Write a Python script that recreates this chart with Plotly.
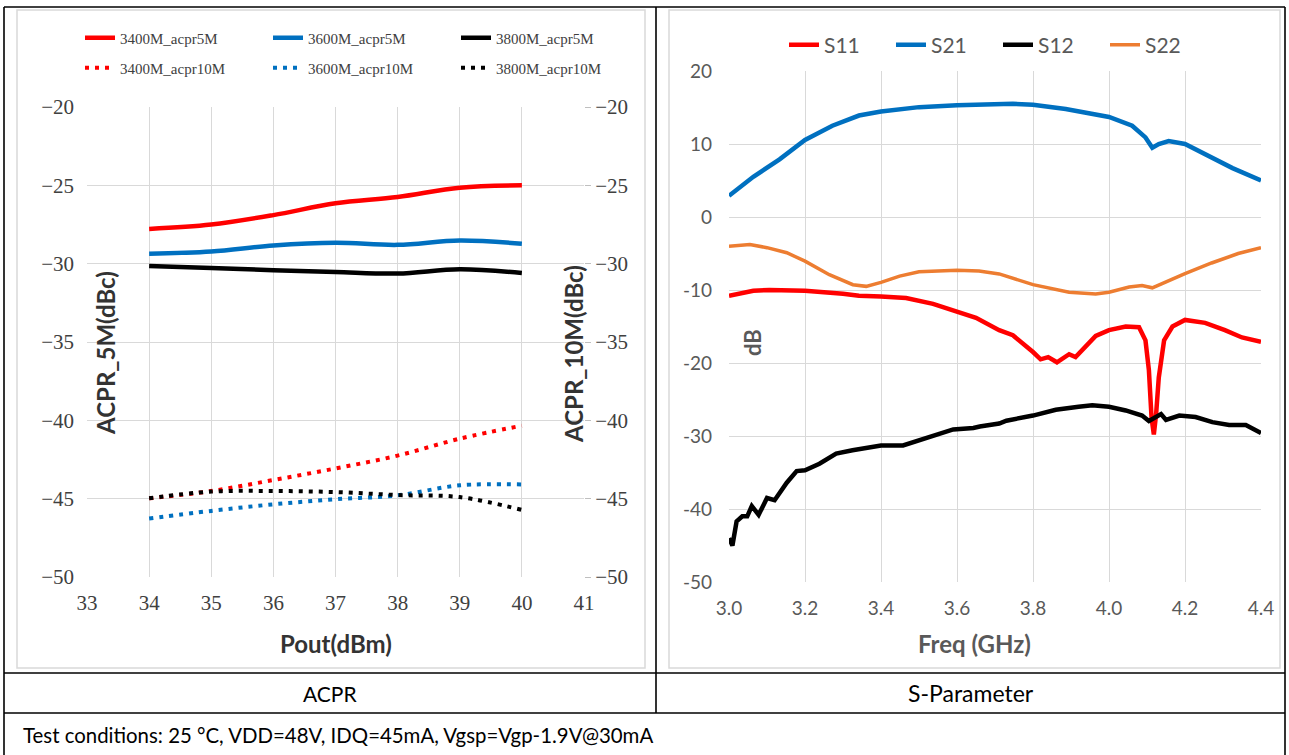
import plotly.graph_objects as go

W, H = 1289, 755

# ---------------- ACPR data ----------------
pout = [34, 35, 36, 37, 38, 39, 40]
acpr5_3400 = [-27.78, -27.5, -26.9, -26.15, -25.75, -25.15, -25.0]
acpr5_3600 = [-29.37, -29.22, -28.84, -28.67, -28.8, -28.52, -28.73]
acpr5_3800 = [-30.15, -30.27, -30.42, -30.53, -30.63, -30.36, -30.59]
acpr10_3400 = [-44.98, -44.51, -43.81, -43.07, -42.25, -41.17, -40.34]
acpr10_3600 = [-46.27, -45.78, -45.36, -45.04, -44.79, -44.15, -44.09]
acpr10_3800 = [-44.98, -44.55, -44.51, -44.58, -44.77, -44.9, -45.72]

# ---------------- S-parameter data ----------------
s21_f = [3.0, 3.064, 3.133, 3.2, 3.272, 3.342, 3.4, 3.5, 3.6, 3.66, 3.711, 3.747, 3.8,
         3.886, 4.0, 4.061, 4.096, 4.114, 4.131, 4.157, 4.2, 4.27, 4.325, 4.4]
s21_v = [2.9, 5.5, 7.9, 10.55, 12.5, 13.9, 14.45, 15.05, 15.3, 15.4, 15.55, 15.5, 15.37,
         14.8, 13.7, 12.5, 10.9, 9.5, 10.0, 10.4, 10.0, 8.2, 6.7, 5.0]

s22_f = [3.0, 3.055, 3.1, 3.152, 3.2, 3.264, 3.326, 3.361, 3.4, 3.449, 3.5, 3.6, 3.658,
         3.711, 3.8, 3.895, 3.965, 4.0, 4.053, 4.087, 4.114, 4.2, 4.27, 4.34, 4.4]
s22_v = [-4.0, -3.76, -4.2, -4.9, -6.05, -7.9, -9.27, -9.5, -8.95, -8.1, -7.5, -7.3, -7.4,
         -7.8, -9.27, -10.3, -10.55, -10.3, -9.6, -9.4, -9.7, -7.75, -6.3, -5.0, -4.2]

s11_f = [3.0, 3.064, 3.106, 3.2, 3.3, 3.342, 3.4, 3.466, 3.537, 3.6, 3.65, 3.711, 3.747,
         3.8, 3.82, 3.84, 3.863, 3.895, 3.912, 3.965, 4.0, 4.044, 4.079, 4.096, 4.105,
         4.112, 4.118, 4.124, 4.131, 4.145, 4.167, 4.2, 4.253, 4.305, 4.35, 4.4]
s11_v = [-10.8, -10.1, -10.0, -10.1, -10.5, -10.8, -10.9, -11.1, -11.9, -13.0, -13.8, -15.5,
         -16.2, -18.5, -19.5, -19.2, -19.9, -18.8, -19.2, -16.3, -15.5, -15.0, -15.1, -16.9,
         -21.0, -27.5, -29.8, -27.0, -22.0, -16.9, -15.0, -14.1, -14.5, -15.5, -16.5, -17.1]

s12_f = [3.0, 3.009, 3.02, 3.035, 3.048, 3.06, 3.078, 3.1, 3.12, 3.152, 3.178, 3.2, 3.238,
         3.282, 3.325, 3.4, 3.458, 3.5, 3.545, 3.59, 3.643, 3.66, 3.711, 3.73, 3.8, 3.86,
         3.92, 3.956, 4.0, 4.044, 4.087, 4.105, 4.137, 4.15, 4.185, 4.228, 4.272, 4.316,
         4.36, 4.4]
s12_v = [-44.0, -45.0, -41.7, -41.0, -41.0, -39.6, -40.8, -38.5, -38.8, -36.4, -34.8, -34.7,
         -33.8, -32.4, -31.95, -31.3, -31.3, -30.6, -29.8, -29.1, -28.9, -28.7, -28.3, -27.9,
         -27.2, -26.4, -26.0, -25.8, -26.0, -26.5, -27.2, -27.95, -27.0, -27.8, -27.2, -27.4,
         -28.1, -28.5, -28.5, -29.6]

acpr_yticks = [-50, -45, -40, -35, -30, -25, -20]
sp_yticks = [-50, -40, -30, -20, -10, 0, 10, 20]
sp_yticktext = ["-50", "-40", "-30", "-20", "-10", "0", "10", "20"]
sp_xticks = [3.0, 3.2, 3.4, 3.6, 3.8, 4.0, 4.2, 4.4]

RED, BLUE, BLACK, ORANGE = "#FF0000", "#0070C0", "#000000", "#ED7D31"
SERIF = "Liberation Serif"
SANS = "Lato"


def px(x):
    return x / W


def py(y):
    return 1 - y / H


fig = go.Figure()

dotdash = "4px,6px"
for name, vals, col in [("3400M_acpr5M", acpr5_3400, RED),
                        ("3600M_acpr5M", acpr5_3600, BLUE),
                        ("3800M_acpr5M", acpr5_3800, BLACK)]:
    fig.add_trace(go.Scatter(x=pout, y=vals, name=name, mode="lines",
                             line=dict(color=col, width=4.5, shape="spline"),
                             xaxis="x", yaxis="y", legend="legend"))
for name, vals, col in [("3400M_acpr10M", acpr10_3400, RED),
                        ("3600M_acpr10M", acpr10_3600, BLUE),
                        ("3800M_acpr10M", acpr10_3800, BLACK)]:
    fig.add_trace(go.Scatter(x=pout, y=vals, name=name, mode="lines",
                             line=dict(color=col, width=4, shape="spline", dash=dotdash),
                             xaxis="x", yaxis="y2", legend="legend2"))

for name, f, v, col, w in [("S11", s11_f, s11_v, RED, 4.5),
                           ("S21", s21_f, s21_v, BLUE, 4.5),
                           ("S12", s12_f, s12_v, BLACK, 4.5),
                           ("S22", s22_f, s22_v, ORANGE, 3.5)]:
    fig.add_trace(go.Scatter(x=f, y=v, name=name, mode="lines",
                             line=dict(color=col, width=w),
                             xaxis="x2", yaxis="y3", legend="legend3"))

GRID = "#d9d9d9"
acpr_tickfont = dict(family=SERIF, size=21, color="#404040")
sp_tickfont = dict(family=SANS, size=19, color="#595959")

fig.update_layout(
    width=W, height=H,
    margin=dict(l=0, r=0, t=0, b=0, autoexpand=False),
    paper_bgcolor="white", plot_bgcolor="white",
    hovermode=False,
    xaxis=dict(domain=[px(87), px(584)], range=[33, 41], dtick=1, tick0=33,
               showgrid=True, gridcolor=GRID, gridwidth=1, zeroline=False,
               showline=False, ticks="", tickfont=acpr_tickfont, anchor="y",
               ticklabelstandoff=11),
    yaxis=dict(domain=[py(577), py(107)], range=[-50, -20], tickvals=acpr_yticks,
               showgrid=True, gridcolor=GRID, zeroline=False, showline=False,
               ticks="", tickfont=acpr_tickfont, anchor="x", ticklabelstandoff=12),
    yaxis2=dict(overlaying="y", side="right", range=[-50, -20], tickvals=acpr_yticks,
                showgrid=False, zeroline=False, showline=False, ticks="outside",
                ticklen=6, tickcolor="#bfbfbf", tickfont=acpr_tickfont, anchor="x"),
    xaxis2=dict(domain=[px(729), px(1261)], range=[3.0, 4.4], tickvals=sp_xticks,
                tickformat=".1f", showgrid=True, gridcolor=GRID, zeroline=False,
                showline=False, ticks="", tickfont=sp_tickfont, anchor="y3",
                ticklabelstandoff=13),
    yaxis3=dict(domain=[py(582), py(71)], range=[-50, 20], tickvals=sp_yticks,
                ticktext=sp_yticktext, showgrid=True, gridcolor=GRID, zeroline=False,
                showline=False, ticks="", tickfont=sp_tickfont, anchor="x2",
                ticklabelstandoff=16),
    legend=dict(orientation="h", x=px(80), y=py(38), xanchor="left", yanchor="middle",
                entrywidth=143, font=dict(family=SERIF, size=15, color="#404040"),
                bgcolor="rgba(0,0,0,0)", itemclick=False),
    legend2=dict(orientation="h", x=px(80), y=py(68), xanchor="left", yanchor="middle",
                 entrywidth=143, font=dict(family=SERIF, size=15, color="#404040"),
                 bgcolor="rgba(0,0,0,0)", itemclick=False),
    legend3=dict(orientation="h", x=px(998), y=py(45), xanchor="center", yanchor="middle",
                 entrywidth=62, font=dict(family=SANS, size=21, color="#595959"),
                 bgcolor="rgba(0,0,0,0)", itemclick=False),
    showlegend=True,
)

# table lines and chart frames
shapes = []
for (x0, y0, x1, y1) in [(17, 10, 645, 668), (669, 10, 1280, 668)]:
    shapes.append(dict(type="rect", xref="paper", yref="paper", x0=px(x0), x1=px(x1),
                       y0=py(y0), y1=py(y1), line=dict(color=GRID, width=1.5),
                       fillcolor="rgba(0,0,0,0)", layer="below"))
for (x0, y0, x1, y1) in [(4, 7, 1285, 7), (4, 673, 1285, 673), (4, 713, 1285, 713),
                         (4, 7, 4, 755), (1285, 7, 1285, 755), (656, 7, 656, 713)]:
    shapes.append(dict(type="line", xref="paper", yref="paper", x0=px(x0), x1=px(x1),
                       y0=py(y0), y1=py(y1), line=dict(color="#000000", width=1.6)))
fig.update_layout(shapes=shapes)

TITLE = "#333333"
annots = [
    dict(text="<b>ACPR_5M(dBc)</b>", x=px(105), y=py(353), textangle=-90,
         font=dict(family=SANS, size=24, color=TITLE)),
    dict(text="<b>ACPR_10M(dBc)</b>", x=px(573), y=py(354), textangle=-90,
         font=dict(family=SANS, size=24, color=TITLE)),
    dict(text="<b>Pout(dBm)</b>", x=px(336), y=py(643),
         font=dict(family=SANS, size=24, color=TITLE)),
    dict(text="<b>dB</b>", x=px(752), y=py(343), textangle=-90,
         font=dict(family=SANS, size=22, color="#595959")),
    dict(text="<b>Freq (GHz)</b>", x=px(975), y=py(643),
         font=dict(family=SANS, size=24, color="#595959")),
    dict(text="ACPR", x=px(330), y=py(693),
         font=dict(family=SANS, size=21, color="#000000")),
    dict(text="S-Parameter", x=px(971), y=py(693),
         font=dict(family=SANS, size=23, color="#000000")),
    dict(text="Test conditions: 25 °C, VDD=48V, IDQ=45mA, Vgsp=Vgp-1.9V@30mA",
         x=px(21), y=py(735), xanchor="left",
         font=dict(family=SANS, size=20.4, color="#000000")),
]
for a in annots:
    a.setdefault("xanchor", "center")
    a.update(xref="paper", yref="paper", yanchor="middle", showarrow=False)
fig.update_layout(annotations=annots)

fig.write_html("out.html",
               config={"displayModeBar": False, "staticPlot": True},
               post_script="document.body.style.margin='0';"
                           "document.body.style.overflow='hidden';")
